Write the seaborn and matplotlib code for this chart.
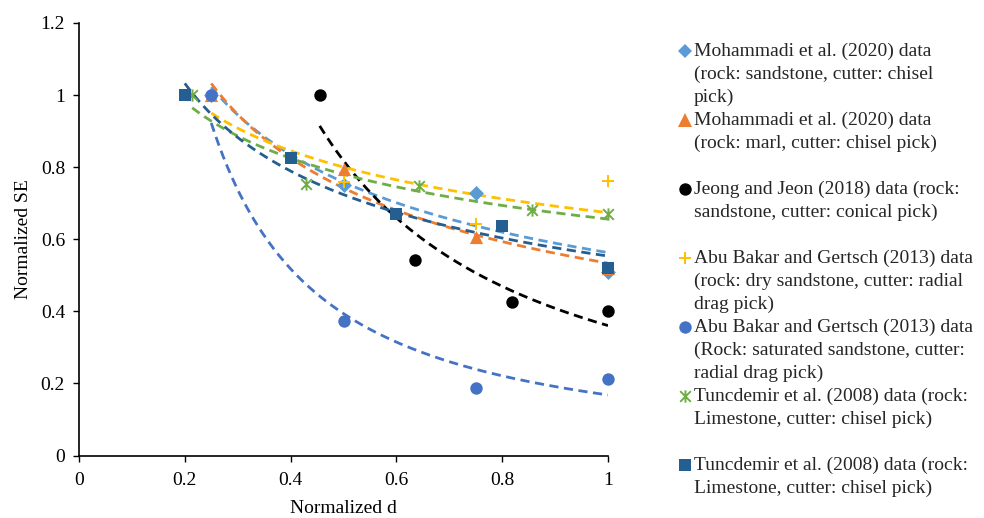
import numpy as np
import matplotlib
matplotlib.use("Agg")
import matplotlib.pyplot as plt
from matplotlib.path import Path
from matplotlib.lines import Line2D
from matplotlib.ticker import FuncFormatter, MultipleLocator
import seaborn as sns

sns.set_theme(style="ticks")
plt.rcParams["font.family"] = ["Liberation Serif", "DejaVu Serif"]

# ---- data (normalized depth of cut vs normalized specific energy) ----
x_moh_sand = [0.25, 0.50, 0.75, 1.00]
y_moh_sand = [1.00, 0.75, 0.727, 0.51]

x_moh_marl = [0.25, 0.50, 0.75, 1.00]
y_moh_marl = [1.00, 0.794, 0.606, 0.52]

x_jeong = [0.455, 0.636, 0.818, 1.00]
y_jeong = [1.00, 0.543, 0.427, 0.40]

x_abu_dry = [0.25, 0.50, 0.75, 1.00]
y_abu_dry = [1.00, 0.759, 0.642, 0.761]

x_abu_sat = [0.25, 0.50, 0.75, 1.00]
y_abu_sat = [1.00, 0.372, 0.186, 0.211]

x_tunc_star = [0.214, 0.429, 0.643, 0.857, 1.00]
y_tunc_star = [1.00, 0.752, 0.747, 0.680, 0.671]

x_tunc_sq = [0.20, 0.40, 0.60, 0.80, 1.00]
y_tunc_sq = [1.00, 0.826, 0.671, 0.638, 0.519]

series_labels = [
    "Mohammadi et al. (2020) data\n(rock: sandstone, cutter: chisel\npick)",
    "Mohammadi et al. (2020) data\n(rock: marl, cutter: chisel pick)\n",
    "Jeong and Jeon (2018) data (rock:\nsandstone, cutter: conical pick)\n",
    "Abu Bakar and Gertsch (2013) data\n(rock: dry sandstone, cutter: radial\ndrag pick)",
    "Abu Bakar and Gertsch (2013) data\n(Rock: saturated sandstone, cutter:\nradial drag pick)",
    "Tuncdemir et al. (2008) data (rock:\nLimestone, cutter: chisel pick)\n",
    "Tuncdemir et al. (2008) data (rock:\nLimestone, cutter: chisel pick)",
]

# asterisk-like "star" marker: an X with a vertical bar
star = Path(
    [(-1, -1), (1, 1), (-1, 1), (1, -1), (0, -1.15), (0, 1.15)],
    [Path.MOVETO, Path.LINETO, Path.MOVETO, Path.LINETO, Path.MOVETO, Path.LINETO],
)

series = [
    (x_moh_sand, y_moh_sand, "#5B9BD5", "D", 58, True),
    (x_moh_marl, y_moh_marl, "#ED7D31", "^", 90, True),
    (x_jeong, y_jeong, "#000000", "o", 80, True),
    (x_abu_dry, y_abu_dry, "#FFC000", "+", 72, False),
    (x_abu_sat, y_abu_sat, "#4472C4", "o", 80, True),
    (x_tunc_star, y_tunc_star, "#70AD47", star, 78, False),
    (x_tunc_sq, y_tunc_sq, "#255E91", "s", 80, True),
]

fig = plt.figure(figsize=(9.84, 5.18), dpi=100)
ax = fig.add_axes([79 / 984, 1 - 455.5 / 518, (608 - 79) / 984, (455.5 - 23) / 518])

# power-law trend lines (least squares in log-log space)
for xs, ys, col, mk, size, filled in series:
    xs_a, ys_a = np.asarray(xs), np.asarray(ys)
    b, ln_a = np.polyfit(np.log(xs_a), np.log(ys_a), 1)
    xx = np.linspace(xs_a.min(), 1.0, 200)
    yy = np.exp(ln_a) * xx ** b
    sns.lineplot(x=xx, y=yy, ax=ax, color=col, linewidth=2.0,
                 linestyle=(0, (3.3, 2.0)), zorder=2, estimator=None, sort=False)

# data markers
for xs, ys, col, mk, size, filled in series:
    kw = dict(color=col, edgecolor=col, s=size, zorder=3, clip_on=False)
    kw["linewidth"] = 0 if filled else 1.4
    sns.scatterplot(x=xs, y=ys, marker=mk, ax=ax, **kw)

ax.set_xlim(0, 1)
ax.set_ylim(0, 1.2)
ax.xaxis.set_major_locator(MultipleLocator(0.2))
ax.yaxis.set_major_locator(MultipleLocator(0.2))
fmt = FuncFormatter(lambda v, p: f"{v:g}")
ax.xaxis.set_major_formatter(fmt)
ax.yaxis.set_major_formatter(fmt)
sns.despine(ax=ax)
for sp in ("left", "bottom"):
    ax.spines[sp].set_color("black")
    ax.spines[sp].set_linewidth(1.2)
ax.tick_params(axis="both", direction="out", length=4, width=1.0,
               color="black", labelsize=14, labelcolor="black", pad=6)
ax.tick_params(axis="x", pad=8)
ax.set_xlabel("Normalized d", fontsize=14, color="black", labelpad=8)
ax.set_ylabel("Normalized SE", fontsize=14, color="black", labelpad=6)

# legend (markers only)
handles = []
for xs, ys, col, mk, size, filled in series:
    handles.append(Line2D([], [], linestyle="none", marker=mk, color=col,
                          markeredgecolor=col, markersize=np.sqrt(size),
                          markeredgewidth=0 if filled else 1.4))
leg = fig.legend(handles, series_labels, loc="upper left",
                 bbox_to_anchor=(679 / 984, 1 - 43 / 518),
                 frameon=False, prop={"family": "Liberation Serif", "size": 14},
                 handlelength=0.6, handletextpad=0.17, handleheight=1.2,
                 labelspacing=0.3, borderpad=0, borderaxespad=0,
                 alignment="left")
for t in leg.get_texts():
    t.set_linespacing(1.43)
for column in leg._legend_handle_box.get_children():
    for row in column.get_children():
        row.align = "top"

fig.savefig("out.png", dpi=100)
